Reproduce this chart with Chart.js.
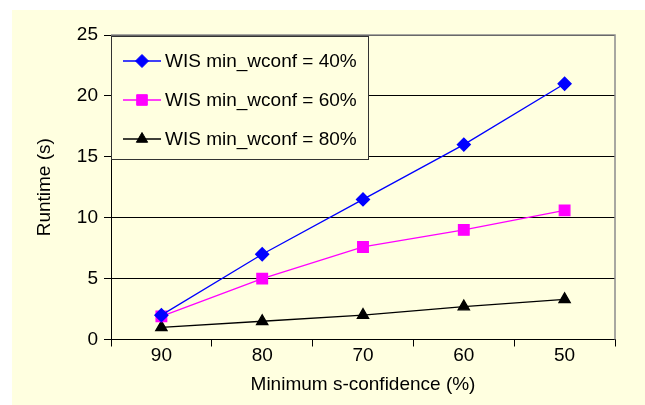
<!DOCTYPE html>
<html>
<head>
<meta charset="utf-8">
<script src="https://cdn.jsdelivr.net/npm/chart.js@4/dist/chart.umd.min.js"></script>
<style>
html,body{margin:0;padding:0;background:#ffffff;}
#wrap{position:absolute;left:0;top:0;width:645px;height:405px;}
</style>
</head>
<body>
<div id="wrap"><canvas id="c" width="645" height="405"></canvas></div>
<script>
const categories = ["90", "80", "70", "60", "50"];
const seriesLabels = ["WIS min_wconf = 40%", "WIS min_wconf = 60%", "WIS min_wconf = 80%"];
const wconf40 = [2.0, 7.0, 11.5, 16.0, 21.0];
const wconf60 = [1.9, 5.0, 7.6, 9.0, 10.6];
const wconf80 = [1.0, 1.5, 2.0, 2.7, 3.3];
const yTicks = [0, 5, 10, 15, 20, 25];
const xTitle = "Minimum s-confidence (%)";
const yTitle = "Runtime (s)";

const FONT = "'Liberation Sans', Arial, sans-serif";
const FS = 19;
const BG = "#FFFFE0";

const bgPlugin = {
  id: 'bg',
  beforeDraw(chart) {
    const ctx = chart.ctx;
    ctx.save();
    ctx.fillStyle = BG;
    ctx.fillRect(12, 10, chart.width - 12, chart.height - 10);
    ctx.restore();
  },
  beforeDatasetsDraw(chart) {
    const a = chart.chartArea;
    const ctx = chart.ctx;
    ctx.save();
    ctx.strokeStyle = "#8c8c8c";
    ctx.lineWidth = 1.5;
    ctx.beginPath();
    ctx.moveTo(a.left, a.top);
    ctx.lineTo(a.right, a.top);
    ctx.lineTo(a.right, a.bottom);
    ctx.stroke();
    ctx.restore();
  },
  afterDatasetsDraw(chart) {
    const a = chart.chartArea;
    const ctx = chart.ctx;
    ctx.save();
    const x0 = a.left + 0.5, y0 = a.top + 1.5, w = 257, h = 123;
    ctx.fillStyle = BG;
    ctx.fillRect(x0, y0, w, h);
    ctx.strokeStyle = "#333333";
    ctx.lineWidth = 1;
    ctx.strokeRect(x0, y0, w, h);
    const rows = [61, 100, 139];
    chart.data.datasets.forEach((ds, i) => {
      const y = rows[i];
      ctx.strokeStyle = ds.borderColor;
      ctx.lineWidth = ds.borderWidth;
      ctx.beginPath();
      ctx.moveTo(123, y);
      ctx.lineTo(161, y);
      ctx.stroke();
      ctx.fillStyle = ds.pointBackgroundColor;
      ctx.strokeStyle = ds.pointBorderColor;
      ctx.lineWidth = 1;
      Chart.helpers.drawPoint(ctx, {
        pointStyle: ds.pointStyle,
        radius: ds.pointRadius,
        rotation: 0,
        borderWidth: 1
      }, 142, y);
      ctx.fillStyle = "#000000";
      ctx.font = FS + "px " + FONT;
      ctx.textBaseline = "middle";
      ctx.textAlign = "left";
      ctx.fillText(ds.label, 165, y + 1);
    });
    ctx.restore();
  }
};

new Chart(document.getElementById('c'), {
  type: 'line',
  data: {
    labels: categories,
    datasets: [
      { label: seriesLabels[0], data: wconf40, borderColor: '#0000FF', backgroundColor: '#0000FF',
        pointBackgroundColor: '#0000FF', pointBorderColor: '#0000FF', pointStyle: 'rectRot', pointRadius: 6.5,
        borderWidth: 1.3, tension: 0 },
      { label: seriesLabels[1], data: wconf60, borderColor: '#FF00FF', backgroundColor: '#FF00FF',
        pointBackgroundColor: '#FF00FF', pointBorderColor: '#FF00FF', pointStyle: 'rect', pointRadius: 7.5,
        borderWidth: 1.3, tension: 0 },
      { label: seriesLabels[2], data: wconf80, borderColor: '#000000', backgroundColor: '#000000',
        pointBackgroundColor: '#000000', pointBorderColor: '#000000', pointStyle: 'triangle', pointRadius: 6.5,
        borderWidth: 1.3, tension: 0 }
    ]
  },
  options: {
    responsive: false,
    animation: false,
    devicePixelRatio: 1,
    layout: { padding: { left: 29, top: 35, right: 30, bottom: 5 } },
    plugins: { legend: { display: false }, tooltip: { enabled: false } },
    elements: { point: { borderWidth: 1, hoverRadius: 6 } },
    scales: {
      x: {
        type: 'category',
        offset: true,
        grid: { display: true, drawOnChartArea: false, offset: true, drawTicks: true, tickLength: 7, color: '#000000', lineWidth: 1 },
        border: { display: true, color: '#000000', width: 1 },
        ticks: { color: '#000000', font: { family: FONT, size: FS, lineHeight: 1 }, padding: 0, maxRotation: 0, autoSkip: false },
        title: { display: true, text: xTitle, color: '#000000', font: { family: FONT, size: FS, lineHeight: 1.2 }, padding: { top: 4, bottom: 4 } },
        afterFit(scale) { scale.height = 60.5; }
      },
      y: {
        min: 0, max: 25,
        afterBuildTicks(scale) { scale.ticks = yTicks.map(v => ({ value: v })); },
        grid: { color: '#000000', lineWidth: 1, drawTicks: true, tickLength: 7 },
        border: { display: true, color: '#000000', width: 1 },
        ticks: { color: '#000000', font: { family: FONT, size: FS }, padding: 6 },
        title: { display: true, text: yTitle, color: '#000000', font: { family: FONT, size: FS, lineHeight: 1.2 }, padding: { top: 4, bottom: 4 } },
        afterFit(scale) { scale.width = 82; }
      }
    }
  },
  plugins: [bgPlugin]
});
</script>
</body>
</html>
